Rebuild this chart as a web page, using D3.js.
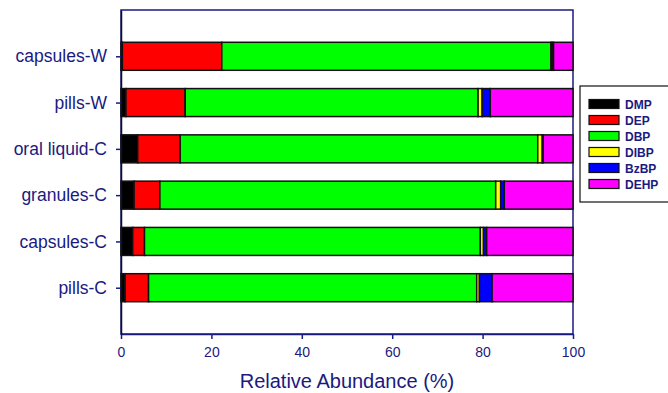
<!DOCTYPE html>
<html><head><meta charset="utf-8">
<script src="https://cdn.jsdelivr.net/npm/d3@7"></script>
<style>body{margin:0;background:#fff}svg{display:block}text{font-family:Arial,"Liberation Sans",sans-serif}</style>
</head><body>
<svg id="c" width="668" height="393"></svg>
<script>
const categories = ["capsules-W","pills-W","oral liquid-C","granules-C","capsules-C","pills-C"];
const seriesNames = ["DMP","DEP","DBP","DIBP","BzBP","DEHP"];
const seriesColors = ["#000000","#ff0000","#00ff00","#ffff00","#0000ff","#ff00ff"];
const DMP  = [0.3, 1.1, 3.7, 2.9, 2.6, 0.9];
const DEP  = [22.0, 13.1, 9.4, 5.7, 2.6, 5.2];
const DBP  = [72.8, 64.8, 79.1, 74.3, 74.3, 72.6];
const DIBP = [0.3, 0.9, 1.0, 1.1, 0.7, 0.6];
const BzBP = [0.3, 1.8, 0.2, 0.8, 0.7, 2.8];
const DEHP = [4.3, 18.3, 6.6, 15.2, 19.1, 17.9];
const xTicks = [0,20,40,60,80,100];

const navy = "#1a1a80";
const svg = d3.select("#c");
const L=121, R=573, T=10, B=334;
const x = d3.scaleLinear().domain([0,100]).range([L,R]);
const y = d3.scalePoint().domain(categories).range([T,B]).padding(1);
const bh = 28;

const stackData = categories.map((c,i)=>({cat:c, DMP:DMP[i], DEP:DEP[i], DBP:DBP[i], DIBP:DIBP[i], BzBP:BzBP[i], DEHP:DEHP[i]}));
const stacked = d3.stack().keys(seriesNames)(stackData);

// frame
svg.append("rect").attr("x",L).attr("y",T).attr("width",R-L).attr("height",B-T)
  .attr("fill","#fff").attr("stroke",navy).attr("stroke-width",1.5);

stacked.forEach((layer,j)=>{
  svg.append("g").selectAll("rect").data(layer).join("rect")
    .attr("x",d=>x(d[0])).attr("width",d=>x(d[1])-x(d[0]))
    .attr("y",d=>y(d.data.cat)-bh/2).attr("height",bh)
    .attr("fill",seriesColors[j]).attr("stroke","#111").attr("stroke-width",1.5);
});

const xa = svg.append("g").attr("transform",`translate(0,${B})`)
  .call(d3.axisBottom(x).tickValues(xTicks).tickSize(5).tickSizeOuter(0).tickPadding(8));
const ya = svg.append("g").attr("transform",`translate(${L},0)`)
  .call(d3.axisLeft(y).tickSize(5).tickSizeOuter(0).tickPadding(9));
[xa,ya].forEach(a=>{
  a.select(".domain").attr("stroke",navy).attr("stroke-width",1.5);
  a.selectAll(".tick line").attr("stroke",navy).attr("stroke-width",1.5);
  a.selectAll("text").attr("fill",navy).style("font-family","Arial, 'Liberation Sans', sans-serif");
});
xa.selectAll("text").attr("font-size",14);
ya.selectAll("text").attr("font-size",17.5);
ya.select(".domain").attr("stroke","#111");

svg.append("text").attr("x",(L+R)/2).attr("y",388).attr("text-anchor","middle")
  .attr("font-size",20).attr("fill",navy).text("Relative Abundance (%)");

// legend
const lg = svg.append("g");
lg.append("rect").attr("x",580).attr("y",86).attr("width",100).attr("height",116)
  .attr("fill","#fff").attr("stroke","#111").attr("stroke-width",1.2);
seriesNames.forEach((s,j)=>{
  const cy = 104 + j*16;
  lg.append("rect").attr("x",589).attr("y",cy-4.5).attr("width",30).attr("height",9)
    .attr("fill",seriesColors[j]).attr("stroke","#111").attr("stroke-width",1.2);
  lg.append("text").attr("x",625).attr("y",cy+4.5).attr("font-size",12).attr("font-weight","bold")
    .attr("fill",navy).text(s);
});
</script>
</body></html>
